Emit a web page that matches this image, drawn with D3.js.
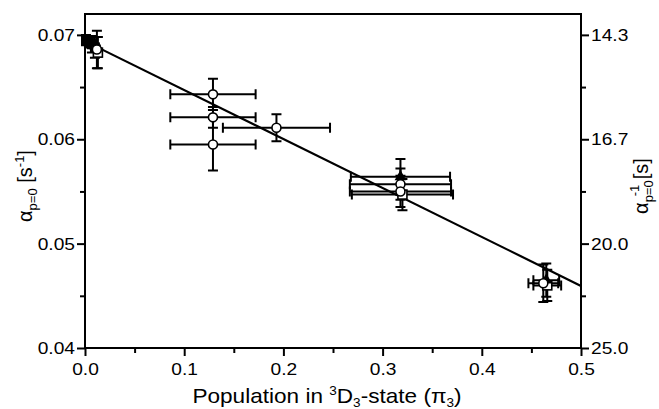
<!DOCTYPE html>
<html lang="en">
<head>
  <meta charset="UTF-8">
  <title>alpha vs population</title>
  <style>
    body { margin: 0; background: #fff; }
    svg { display: block; }
  </style>
</head>
<body>
  <svg id="svg" width="659" height="409" font-family="'Liberation Sans', Arial, sans-serif"></svg>
  <script src="https://cdn.jsdelivr.net/npm/d3@7/dist/d3.min.js"></script>
  <script>
    // values
    var xTicks = [0.0, 0.1, 0.2, 0.3, 0.4, 0.5];
    var yTicks = [0.04, 0.05, 0.06, 0.07];
    var rightTickLabels = ["25.0", "20.0", "16.7", "14.3"];

    // filled squares
    var sqPop = [0.001, 0.004, 0.007, 0.010];
    var sqAlpha = [0.0695, 0.0693, 0.0691, 0.0688];
    var sqXErr = [0.002, 0.002, 0.002, 0.002];
    var sqYErr = [0.0005, 0.0005, 0.0008, 0.0010];

    // open circles
    var ciPop = [0.012, 0.129, 0.129, 0.129, 0.193, 0.318, 0.318, 0.462];
    var ciAlpha = [0.0686, 0.0643, 0.0621, 0.0595, 0.0611, 0.0557, 0.0550, 0.0462];
    var ciXErr = [0.003, 0.043, 0.043, 0.043, 0.054, 0.051, 0.051, 0.015];
    var ciYErr = [0.0018, 0.0015, 0.0010, 0.0025, 0.0013, 0.0015, 0.0015, 0.0018];

    // open squares
    var osPop = [0.013, 0.320, 0.466];
    var osAlpha = [0.0683, 0.0547, 0.0460];
    var osXErr = [0.003, 0.051, 0.014];
    var osYErr = [0.0015, 0.0015, 0.0015];

    // filled triangles
    var trPop = [0.318, 0.465];
    var trAlpha = [0.0564, 0.0465];
    var trXErr = [0.05, 0.013];
    var trYErr = [0.0017, 0.0016];

    // linear fit
    var fitIntercept = 0.0694;
    var fitSlope = -0.0469;

    var svg = d3.select("svg"),
      pl = 85, pr = 581, pt = 14, pb = 348,
      sx = 1.13;

    var x = d3.scaleLinear().domain([0, 0.5]).range([pl, pr]);
    var y = d3.scaleLinear().domain([0.04, 0.072]).range([pb, pt]);

    function zip(p, a, xe, ye, shape) {
      return p.map(function (d, i) {
        return { x: d, y: a[i], xe: xe[i], ye: ye[i], shape: shape };
      });
    }
    var points = [].concat(
      zip(sqPop, sqAlpha, sqXErr, sqYErr, "fsq"),
      zip(osPop, osAlpha, osXErr, osYErr, "osq"),
      zip(trPop, trAlpha, trXErr, trYErr, "tri"),
      zip(ciPop, ciAlpha, ciXErr, ciYErr, "cir")
    );

    // frame
    svg.append("rect")
      .attr("x", pl).attr("y", pt)
      .attr("width", pr - pl).attr("height", pb - pt)
      .attr("fill", "none").attr("stroke", "#000").attr("stroke-width", 2);

    // bottom axis
    var xAxis = svg.append("g").attr("transform", "translate(0," + pb + ")")
      .call(d3.axisBottom(x).tickValues(xTicks).tickSize(8).tickFormat(d3.format(".1f")));
    svg.append("g").attr("transform", "translate(0," + pb + ")")
      .call(d3.axisBottom(x).tickValues([0.05, 0.15, 0.25, 0.35, 0.45]).tickSize(5).tickFormat(""));

    // left axis
    var yAxis = svg.append("g").attr("transform", "translate(" + pl + ",0)")
      .call(d3.axisLeft(y).tickValues(yTicks).tickSize(8).tickFormat(d3.format(".2f")));
    svg.append("g").attr("transform", "translate(" + pl + ",0)")
      .call(d3.axisLeft(y).tickValues([0.045, 0.055, 0.065]).tickSize(5).tickFormat(""));

    // right axis (reciprocal)
    var rAxis = svg.append("g").attr("transform", "translate(" + pr + ",0)")
      .call(d3.axisRight(y).tickValues(yTicks).tickSize(8).tickFormat(function (d, i) { return rightTickLabels[i]; }));
    svg.append("g").attr("transform", "translate(" + pr + ",0)")
      .call(d3.axisRight(y).tickValues([0.045, 0.055, 0.065]).tickSize(5).tickFormat(""));

    svg.selectAll(".domain").remove();
    svg.selectAll(".tick line").attr("stroke", "#000").attr("stroke-width", 2);
    svg.selectAll(".tick text").attr("fill", "#000").attr("font-size", 17)
      .attr("font-family", "'Liberation Sans', Arial, sans-serif")
      .attr("transform", "scale(" + sx + ",1)");
    xAxis.selectAll(".tick text").attr("dy", "0.95em");
    yAxis.selectAll(".tick text").attr("x", -10 / sx);
    rAxis.selectAll(".tick text").attr("x", 10 / sx);

    // fit line
    svg.append("line")
      .attr("x1", x(0)).attr("y1", y(fitIntercept))
      .attr("x2", x(0.5)).attr("y2", y(fitIntercept + fitSlope * 0.5))
      .attr("stroke", "#000").attr("stroke-width", 2.2);

    // error bars
    var cap = 5;
    var eb = svg.append("g").attr("stroke", "#000").attr("stroke-width", 2).attr("fill", "none");
    points.forEach(function (d) {
      var cx = x(d.x), cy = y(d.y);
      var x0 = x(d.x - d.xe), x1 = x(d.x + d.xe), y0 = y(d.y - d.ye), y1 = y(d.y + d.ye);
      eb.append("path").attr("d",
        "M" + x0 + "," + cy + "H" + x1 +
        "M" + x0 + "," + (cy - cap) + "V" + (cy + cap) +
        "M" + x1 + "," + (cy - cap) + "V" + (cy + cap) +
        "M" + cx + "," + y0 + "V" + y1 +
        "M" + (cx - cap) + "," + y0 + "H" + (cx + cap) +
        "M" + (cx - cap) + "," + y1 + "H" + (cx + cap));
    });

    // markers
    var mk = svg.append("g");
    points.forEach(function (d) {
      var cx = x(d.x), cy = y(d.y);
      if (d.shape === "cir") {
        mk.append("circle").attr("cx", cx).attr("cy", cy).attr("r", 4.5)
          .attr("fill", "#fff").attr("stroke", "#000").attr("stroke-width", 1.6);
      } else if (d.shape === "fsq") {
        mk.append("rect").attr("x", cx - 5).attr("y", cy - 5).attr("width", 10).attr("height", 10)
          .attr("fill", "#000");
      } else if (d.shape === "osq") {
        mk.append("rect").attr("x", cx - 4.5).attr("y", cy - 4.5).attr("width", 9).attr("height", 9)
          .attr("fill", "#fff").attr("stroke", "#000").attr("stroke-width", 1.6);
      } else {
        mk.append("path").attr("transform", "translate(" + cx + "," + cy + ")")
          .attr("d", d3.symbol().type(d3.symbolTriangle).size(60)()).attr("fill", "#000");
      }
    });

    // axis titles
    var xt = svg.append("g").attr("transform", "translate(" + ((pl + pr) / 2 - 6) + ",403) scale(" + sx + ",1)")
      .append("text")
      .attr("text-anchor", "middle").attr("font-size", 20).attr("fill", "#000");
    xt.append("tspan").text("Population in ");
    xt.append("tspan").attr("dy", -8).attr("font-size", 12).text("3");
    xt.append("tspan").attr("dy", 8).text("D");
    xt.append("tspan").attr("dy", 4).attr("font-size", 12).text("3");
    xt.append("tspan").attr("dy", -4).text("-state (π");
    xt.append("tspan").attr("dy", 4).attr("font-size", 12).text("3");
    xt.append("tspan").attr("dy", -4).text(")");

    function alphaLabel(g, inverse) {
      var t = g.append("text").attr("text-anchor", "middle").attr("font-size", 20).attr("fill", "#000");
      t.append("tspan").text("α");
      if (inverse) {
        t.append("tspan").attr("dy", 5).attr("font-size", 13).text("p=0");
        t.append("tspan").attr("dy", -14).attr("dx", -16).attr("font-size", 13).text("-1");
        t.append("tspan").attr("dy", 9).text(" [s]");
      } else {
        t.append("tspan").attr("dy", 5).attr("font-size", 13).text("p=0");
        t.append("tspan").attr("dy", -5).text(" [s");
        t.append("tspan").attr("dy", -8).attr("font-size", 13).text("-1");
        t.append("tspan").attr("dy", 8).text("]");
      }
    }
    alphaLabel(svg.append("g").attr("transform", "translate(32,186) rotate(-90)"), false);
    alphaLabel(svg.append("g").attr("transform", "translate(648,186) rotate(-90)"), true);
  </script>
</body>
</html>
